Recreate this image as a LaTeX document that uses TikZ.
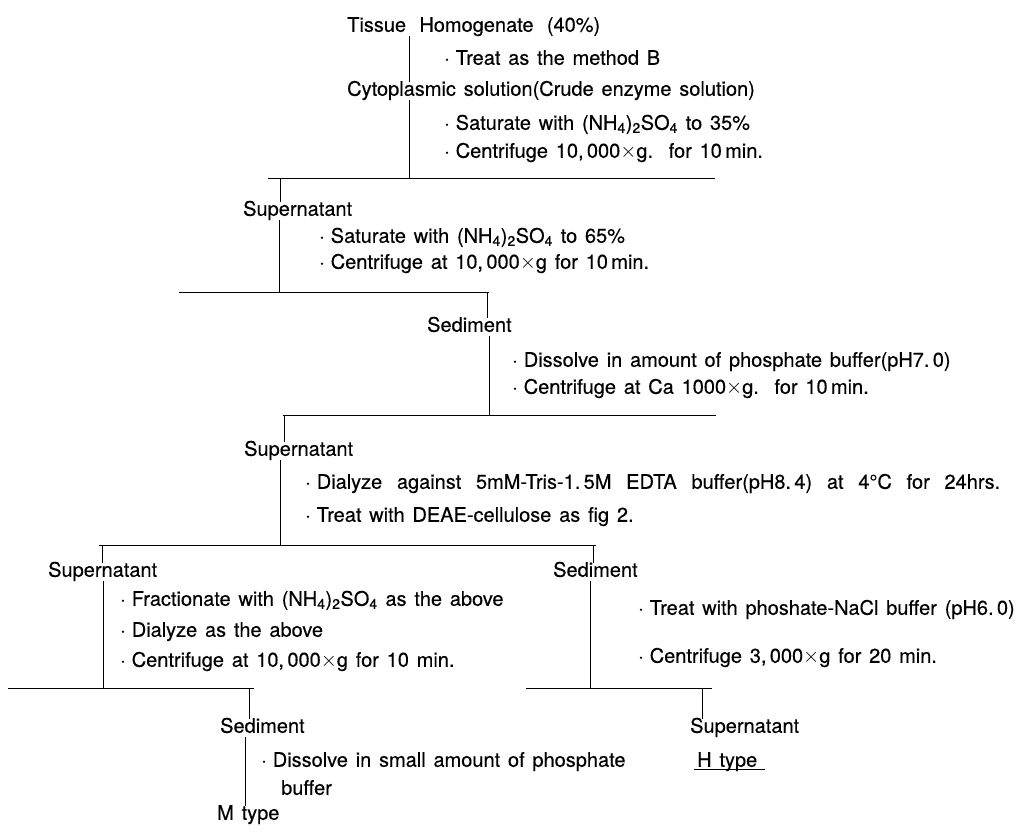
\documentclass[tikz,border=0pt]{standalone}
\usepackage{fontspec}
\setmainfont[WordSpace=1.4,FakeBold=0.3]{TeX Gyre Heros}
\newcommand{\sbs}[1]{\textsubscript{#1}}
\newcommand{\bul}{·\hspace{0.3em}}
\newcommand{\fit}[2]{\makebox[#1][s]{#2}}
\begin{document}
\begin{tikzpicture}[x=1pt,y=-1pt,
  txt/.style={anchor=west,inner sep=0pt,text height=14pt,text depth=4.5pt,font=\fontsize{20}{24}\selectfont},
  ln/.style={line width=0.9pt}]
\useasboundingbox (0,0) rectangle (1030,831);
% texts
\node[txt] (t1) at (347,27) {\fit{253pt}{Tissue Homogenate (40\%)}};
\node[txt] (t2) at (444,60) {\bul Treat as the method B};
\node[txt] (t3) at (347,91) {Cytoplasmic solution(Crude enzyme solution)};
\node[txt] (t4) at (444,125) {\bul Saturate with (NH\sbs{4})\sbs{2}SO\sbs{4} to 35\%};
\node[txt] (t5) at (444,153) {\bul Centrifuge 10,\,000$\times$g.\ \ for 10\,min.};
\node[txt] (t6) at (243,211) {Supernatant};
\node[txt] (t7) at (319,238) {\bul Saturate with (NH\sbs{4})\sbs{2}SO\sbs{4} to 65\%};
\node[txt] (t8) at (319,264) {\bul Centrifuge at 10,\,000$\times$g for 10\,min.};
\node[txt] (t9) at (427,327) {Sediment};
\node[txt] (t10) at (512,362) {\bul Dissolve in amount of phosphate buffer(pH7.\,0)};
\node[txt] (t11) at (512,389) {\bul Centrifuge at Ca 1000$\times$g.\ \ for 10\,min.};
\node[txt] (t12) at (244,451) {Supernatant};
\node[txt] (t13) at (305,484) {\fit{695pt}{\bul Dialyze against 5mM-Tris-1.\,5M EDTA buffer(pH8.\,4) at 4°C for 24hrs.}};
\node[txt] (t14) at (305,517) {\bul Treat with DEAE-cellulose as fig 2.};
\node[txt] (t15) at (48,572) {Supernatant};
\node[txt] (t16) at (553,572) {Sediment};
\node[txt] (t17) at (120,601) {\bul Fractionate with (NH\sbs{4})\sbs{2}SO\sbs{4} as the above};
\node[txt] (t18) at (120,632) {\bul Dialyze as the above};
\node[txt] (t19) at (120,662) {\bul Centrifuge at 10,\,000$\times$g for 10 min.};
\node[txt] (t20) at (638,610) {\bul Treat with phoshate-NaCl buffer (pH6.\,0)};
\node[txt] (t21) at (638,658) {\bul Centrifuge 3,\,000$\times$g for 20 min.};
\node[txt] (t22) at (220,728) {Sediment};
\node[txt] (t23) at (690,728) {Supernatant};
\node[txt] (t24) at (261,762) {\bul Dissolve in small amount of phosphate};
\node[txt] (t25) at (281,790) {buffer};
\node[txt] (t26) at (217,815) {M type};
\node[txt] (t27) at (697,762) {H type};
% bar coordinates
\coordinate (b1l) at (268,178); \coordinate (b1r) at (715,178);
\coordinate (b2l) at (179,292); \coordinate (b2r) at (489,292);
\coordinate (b3l) at (283,415); \coordinate (b3r) at (716,415);
\coordinate (b4l) at (99,545);  \coordinate (b4r) at (596,545);
\coordinate (b5l) at (8,688);   \coordinate (b5m) at (254,688);
\coordinate (b5n) at (526,688); \coordinate (b5r) at (712,688);
% vertical x positions
\coordinate (x1) at (409,0);
\coordinate (x2) at (280,0);
\coordinate (x3) at (279,0);
\coordinate (x4) at (487,0);
\coordinate (x5) at (489,0);
\coordinate (x6) at (284,0);
\coordinate (x7) at (280,0);
\coordinate (x8) at (102,0);
\coordinate (x9) at (593,0);
\coordinate (x10) at (103,0);
\coordinate (x11) at (590,0);
\coordinate (x12) at (249,0);
\coordinate (x13) at (702,0);
\coordinate (x14) at (245,0);
% bars
\draw[ln] (b1l) -- (b1r);
\draw[ln] (b2l) -- (b2r);
\draw[ln] (b3l) -- (b3r);
\draw[ln] (b4l) -- (b4r);
\draw[ln] (b5l) -- (b5m);
\draw[ln] (b5n) -- (b5r);
% verticals
\draw[ln] (t1.south -| x1) -- (t3.north -| x1);
\draw[ln] (t3.south -| x1) -- (b1l -| x1);
\draw[ln] (b1l -| x2) -- (t6.north -| x2);
\draw[ln] (t6.south -| x3) -- (b2l -| x3);
\draw[ln] (b2l -| x4) -- (t9.north -| x4);
\draw[ln] (t9.south -| x5) -- (b3l -| x5);
\draw[ln] (b3l -| x6) -- (t12.north -| x6);
\draw[ln] (t12.south -| x7) -- (b4l -| x7);
\draw[ln] (b4l -| x8) -- (t15.north -| x8);
\draw[ln] (b4l -| x9) -- (t16.north -| x9);
\draw[ln] (t15.south -| x10) -- (b5l -| x10);
\draw[ln] (t16.south -| x11) -- (b5l -| x11);
\draw[ln] (b5l -| x12) -- (t22.north -| x12);
\draw[ln] (b5l -| x13) -- (t23.north -| x13);
\draw[ln] (t22.south -| x14) -- (t26.north -| x14);
% underline of H type
\draw[ln] ([xshift=-3pt,yshift=2pt]t27.south west) -- ([xshift=8pt,yshift=2pt]t27.south east);
\end{tikzpicture}
\end{document}
